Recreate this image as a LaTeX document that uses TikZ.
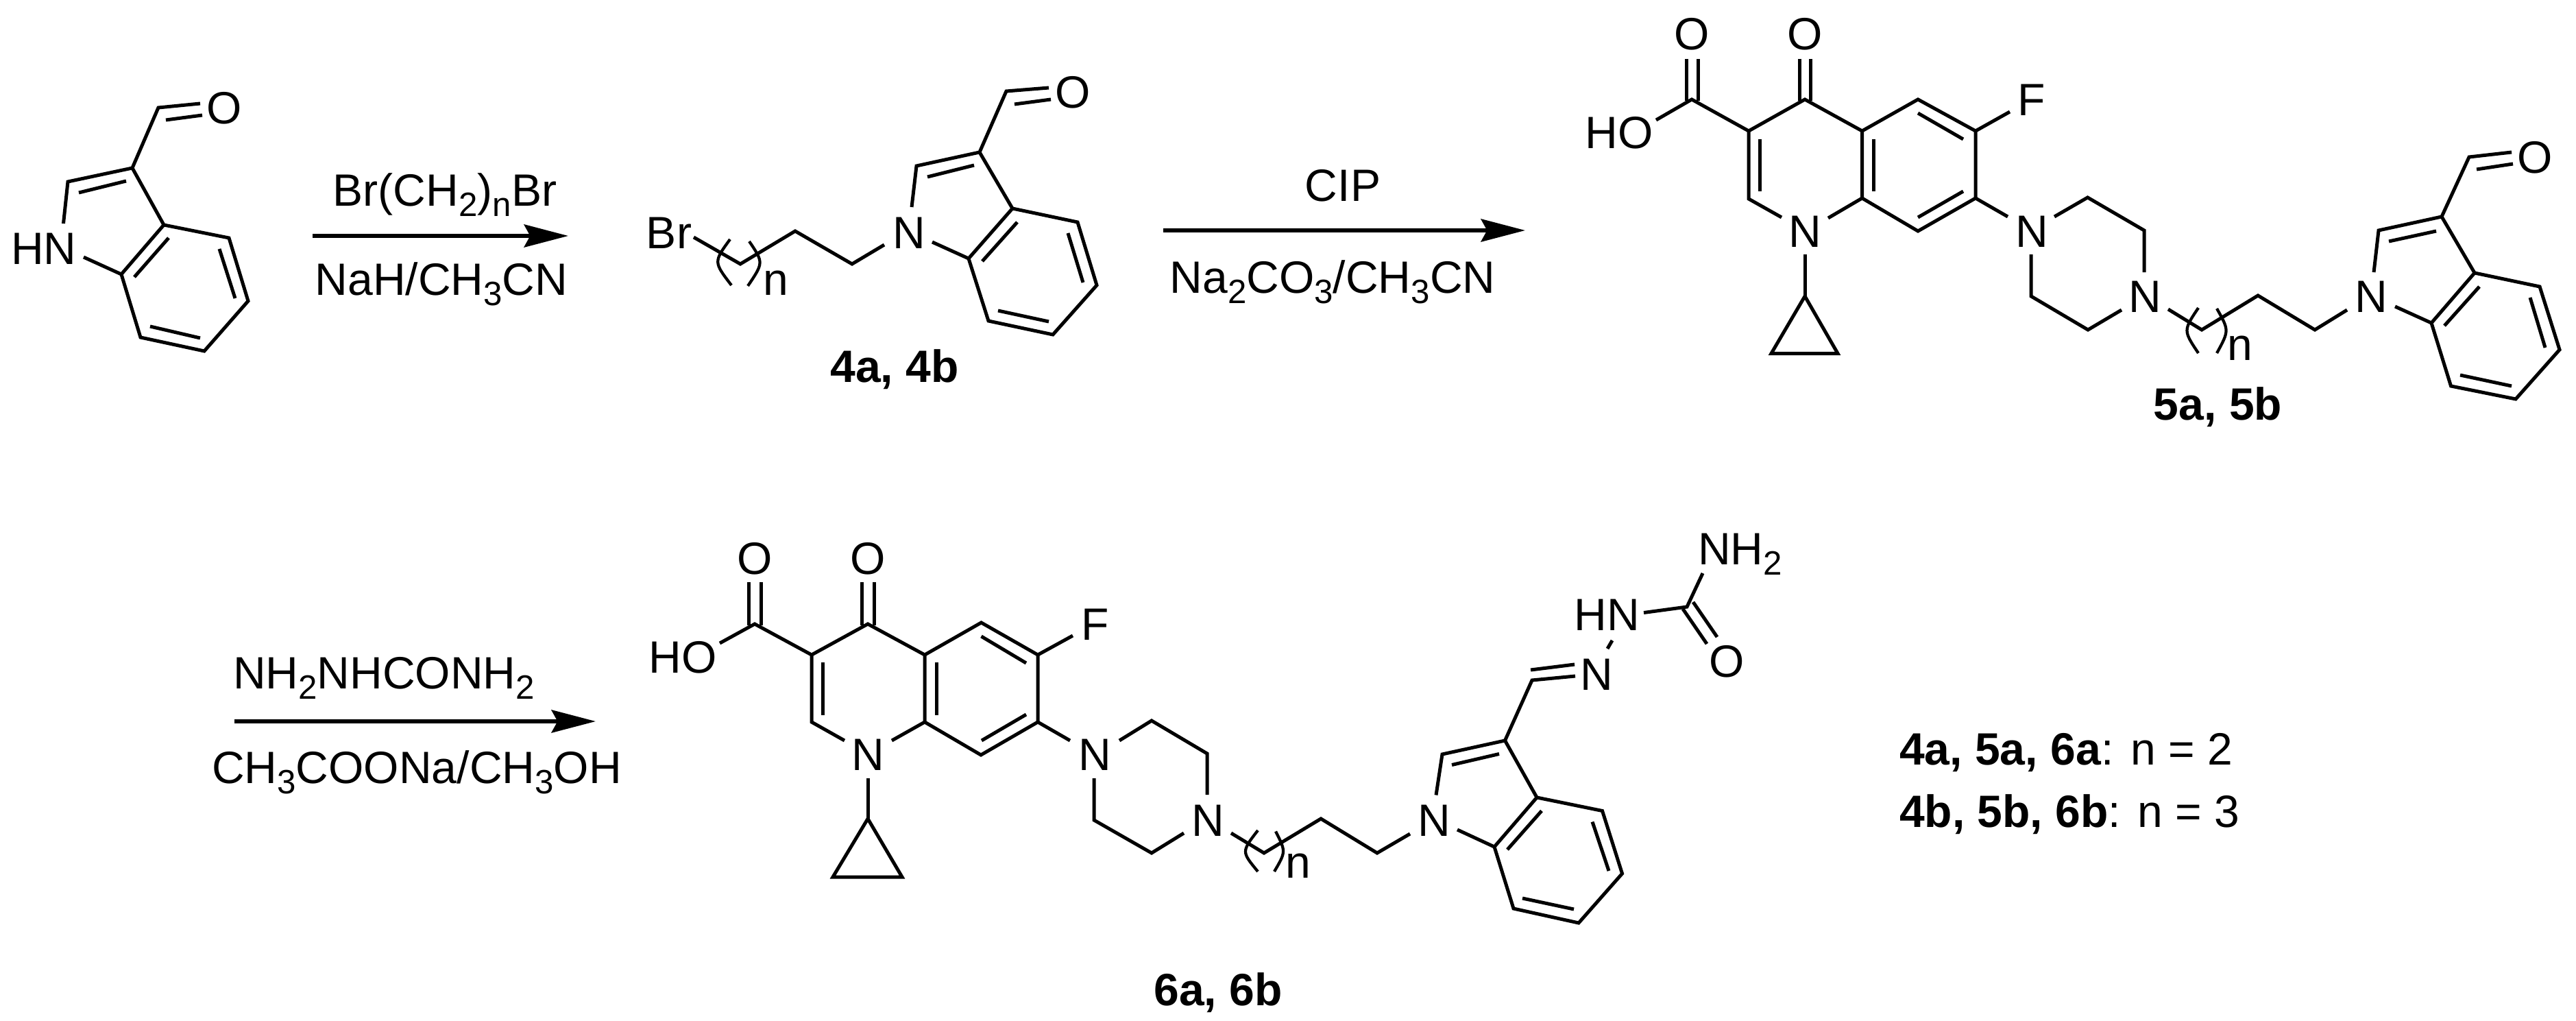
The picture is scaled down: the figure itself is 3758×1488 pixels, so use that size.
\documentclass[tikz,border=0pt]{standalone}
\usepackage{fontspec}
\setmainfont{Liberation Sans}
\usetikzlibrary{arrows.meta}
\newcommand\sbs[1]{\raisebox{-4.3pt}{\fontsize{14}{14}\selectfont #1}}
\tikzset{
  bond/.style={line width=1.42pt,line join=miter,line cap=butt,black},
  paren/.style={line width=1.2pt,black},
  atom/.style={anchor=base,inner sep=0pt,outer sep=0pt,font=\fontsize{18.78}{22}\selectfont},
  cmpd/.style={atom,font=\fontsize{18.78}{22}\selectfont\bfseries},
  keyline/.style={atom,anchor=base west},
  rxn/.style={line width=1.7pt,-{Stealth[length=18.3pt,width=9.4pt,inset=2.5pt]}}
}
\begin{document}
\begin{tikzpicture}[x=0.01cm,y=-0.01cm]
\useasboundingbox (0,0) rectangle (3758,1488);
% ---------- compound 3 (indole aldehyde)
\node[atom] (a1O) at (327,181) {O};
\node[atom] (a1N) at (64,385) {HN};
\draw[bond] (292,151) -- (231,157) -- (193,245) -- (99,265) -- (92.5,326);
\draw[bond] (242,175) -- (295,168);
\draw[bond] (115,281) -- (184,264);
\draw[bond] (193,245) -- (239,328) -- (177,400) -- (122,375);
\draw[bond] (239,328) -- (334,347) -- (362,439) -- (298,512) -- (205,492) -- (177,400);
\draw[bond] (246,347) -- (196,404);
\draw[bond] (320,363) -- (343,435);
\draw[bond] (219,476) -- (292,493);
% ---------- reaction 1
\node[atom] (r1a) at (649,300) {Br(CH\sbs{2})\sbs{n}Br};
\node[atom] (r1b) at (644,430) {NaH/CH\sbs{3}CN};
\coordinate (r1s) at (456,344);
\coordinate (r1e) at (829,344);
\draw[rxn] (r1s) -- (r1e);
% ---------- compound 4
\node[atom] (b4Br) at (976,362) {Br};
\node[atom] (b4N) at (1326,362) {N};
\node[atom] (b4O) at (1565,158) {O};
\node[atom] (b4n) at (1132,430) {n};
\node[cmpd] (b4L) at (1305,557) {4a, 4b};
\draw[bond] (1012,346) -- (1080,385) -- (1160,337) -- (1243,385) -- (1290,357);
\draw[paren] (1065,349) .. controls (1041,382) .. (1067,416);
\draw[paren] (1093,352) .. controls (1114,383) .. (1091,417);
\draw[bond] (1530,128) -- (1468,133) -- (1429,222) -- (1337,242) -- (1330,302);
\draw[bond] (1480,152) -- (1533,145);
\draw[bond] (1353,258) -- (1421,241);
\draw[bond] (1429,222) -- (1477,304) -- (1413,377) -- (1360,353);
\draw[bond] (1477,304) -- (1572,324) -- (1600,416) -- (1536,488) -- (1442,468) -- (1413,377);
\draw[bond] (1484,324) -- (1433,381);
\draw[bond] (1558,340) -- (1580,412);
\draw[bond] (1456,453) -- (1530,469);
% ---------- reaction 2
\node[atom] (r2a) at (1959,293) {CIP};
\node[atom] (r2b) at (1944,427) {Na\sbs{2}CO\sbs{3}/CH\sbs{3}CN};
\coordinate (r2s) at (1697,336);
\coordinate (r2e) at (2225,336);
\draw[rxn] (r2s) -- (r2e);
% ---------- compound 5
\node[atom] (c5O1) at (2468,73) {O};
\node[atom] (c5O2) at (2633,73) {O};
\node[atom] (c5HO) at (2362,217) {HO};
\node[atom] (c5F) at (2964,169) {F};
\node[atom] (c5N1) at (2633,360) {N};
\node[atom] (c5N2) at (2964,360) {N};
\node[atom] (c5N3) at (3129,455) {N};
\node[atom] (c5N4) at (3459.5,455) {N};
\node[atom] (c5O3) at (3698,252) {O};
\node[atom] (c5n) at (3268,525) {n};
\node[cmpd] (c5L) at (3235.5,612) {5a, 5b};
\draw[bond] (2460,86) -- (2460,147);
\draw[bond] (2477,86) -- (2477,147);
\draw[bond] (2625,86) -- (2625,147);
\draw[bond] (2641,86) -- (2641,147);
\draw[bond] (2416,175) -- (2468,145) -- (2551,191) -- (2551,290) -- (2599,317);
\draw[bond] (2551,191) -- (2633,145) -- (2716.5,191) -- (2716.5,289) -- (2667,318);
\draw[bond] (2567,203) -- (2567,279);
\draw[bond] (2733,203) -- (2733,279);
\draw[bond] (2716.5,191) -- (2798,145) -- (2882,191) -- (2882,289) -- (2798,337) -- (2716.5,289);
\draw[bond] (2798,165) -- (2864,203);
\draw[bond] (2864,279) -- (2798,317);
\draw[bond] (2882,191) -- (2932,163);
\draw[bond] (2882,289) -- (2929,316);
\draw[bond] (2633,371) -- (2633,432);
\draw[bond] (2633,432) -- (2584,515.5) -- (2681,515.5) -- cycle;
\draw[bond] (2997,316) -- (3045.5,288) -- (3128,336) -- (3128,397);
\draw[bond] (2963,371) -- (2963,432) -- (3046,481) -- (3095,452);
\draw[bond] (3163,451) -- (3212,481) -- (3294,431) -- (3377,481) -- (3424,452);
\draw[paren] (3207,449) .. controls (3185,482) .. (3207,515);
\draw[paren] (3234,450) .. controls (3252,482) .. (3234,515);
\draw[bond] (3664,222) -- (3602,229) -- (3562,316) -- (3470,336) -- (3463,397);
\draw[bond] (3613,247) -- (3666,239);
\draw[bond] (3485,352) -- (3554,337);
\draw[bond] (3562,316) -- (3610,398) -- (3547,471) -- (3494,447);
\draw[bond] (3610,398) -- (3705,418) -- (3734,510) -- (3670,582) -- (3575.5,563) -- (3547,471);
\draw[bond] (3617,418) -- (3566,475);
\draw[bond] (3691,434) -- (3713,507);
\draw[bond] (3589,547) -- (3664,563);
% ---------- reaction 3
\node[atom] (r3a) at (560,1004.5) {NH\sbs{2}NHCONH\sbs{2}};
\node[atom] (r3b) at (608,1142) {CH\sbs{3}COONa/CH\sbs{3}OH};
\coordinate (r3s) at (342,1052);
\coordinate (r3e) at (869,1052);
\draw[rxn] (r3s) -- (r3e);
% ---------- compound 6
\node[atom] (d6O1) at (1101,837) {O};
\node[atom] (d6O2) at (1266,837) {O};
\node[atom] (d6HO) at (996,981) {HO};
\node[atom] (d6F) at (1598,933) {F};
\node[atom] (d6N1) at (1266,1123) {N};
\node[atom] (d6N2) at (1597,1123) {N};
\node[atom] (d6N3) at (1762,1219) {N};
\node[atom] (d6N4) at (2092,1219) {N};
\node[atom] (d6N5) at (2329.5,1006) {N};
\node[atom] (d6HN) at (2344,919) {HN};
\node[atom] (d6O3) at (2519,987) {O};
\node[keyline] (d6NH) at (2477,823) {NH\sbs{2}};
\node[atom] (d6n) at (1894,1280) {n};
\node[cmpd] (d6L) at (1777,1466) {6a, 6b};
\draw[bond] (1092.5,849) -- (1092.5,912);
\draw[bond] (1110,849) -- (1110,912);
\draw[bond] (1257,849) -- (1257,912);
\draw[bond] (1275,849) -- (1275,912);
\draw[bond] (1050,938) -- (1101,910) -- (1184,955) -- (1184,1053) -- (1232,1080);
\draw[bond] (1184,955) -- (1266,910) -- (1349,955) -- (1349,1053) -- (1301,1080);
\draw[bond] (1200,966) -- (1200,1043);
\draw[bond] (1366,966) -- (1366,1043);
\draw[bond] (1349,955) -- (1431.5,908) -- (1514,955) -- (1514,1053) -- (1431,1101) -- (1349,1053);
\draw[bond] (1431.5,928) -- (1497,967);
\draw[bond] (1497,1042) -- (1432,1080);
\draw[bond] (1514,955) -- (1565,927);
\draw[bond] (1514,1053) -- (1561,1080);
\draw[bond] (1266,1135) -- (1266,1194);
\draw[bond] (1266,1194) -- (1215,1279) -- (1316,1279) -- cycle;
\draw[bond] (1633,1080) -- (1680,1051) -- (1761,1099) -- (1761,1159);
\draw[bond] (1596,1135) -- (1596,1196) -- (1680,1244) -- (1727,1215);
\draw[bond] (1796,1215) -- (1844,1244) -- (1927,1194) -- (2009,1244) -- (2057,1216);
\draw[paren] (1835,1211) .. controls (1811,1242) .. (1835,1271);
\draw[paren] (1861,1212.5) .. controls (1876,1242) .. (1859,1271);
\draw[bond] (2298,986) -- (2235,992) -- (2195.5,1080) -- (2104,1100) -- (2095,1159.5);
\draw[bond] (2233,977) -- (2297,969);
\draw[bond] (2118,1115.5) -- (2187,1099.5);
\draw[bond] (2195.5,1080) -- (2242,1163) -- (2180,1235) -- (2126,1210);
\draw[bond] (2242,1163) -- (2337.5,1182.5) -- (2366.5,1274) -- (2303,1346) -- (2208,1325) -- (2180,1235);
\draw[bond] (2249,1182.5) -- (2199,1239);
\draw[bond] (2323,1198.5) -- (2347,1270);
\draw[bond] (2221,1310) -- (2296,1326);
\draw[bond] (2352,934) -- (2345,946);
\draw[bond] (2398,893.5) -- (2461,885) -- (2484,836);
\draw[bond] (2470,878) -- (2505,929);
\draw[bond] (2455,888) -- (2490,939);
% ---------- key
\node[keyline] (k1) at (2771,1115) {\textbf{4a, 5a, 6a}: n = 2};
\node[keyline] (k2) at (2771,1206) {\textbf{4b, 5b, 6b}: n = 3};
\end{tikzpicture}
\end{document}
